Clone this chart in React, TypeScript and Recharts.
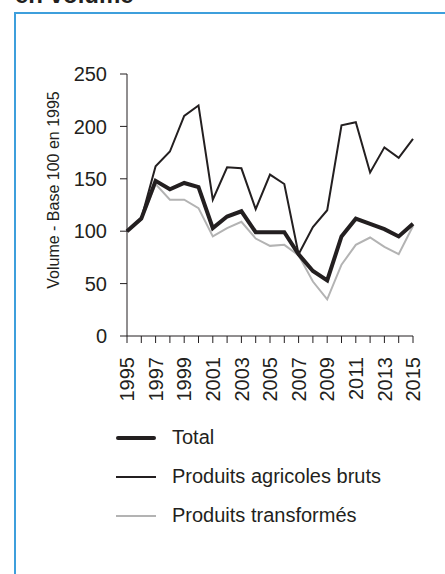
import React from 'react';
import { LineChart, Line, XAxis, YAxis } from 'recharts';

const years = [
  '1995', '1996', '1997', '1998', '1999', '2000', '2001', '2002', '2003', '2004', '2005',
  '2006', '2007', '2008', '2009', '2010', '2011', '2012', '2013', '2014', '2015',
];
const total = [100, 112, 148, 140, 146, 142, 103, 114, 119, 99, 99, 99, 78, 62, 53, 95, 112, 107, 102, 95, 107];
const agricoles = [100, 112, 162, 176, 210, 220, 130, 161, 160, 121, 154, 145, 78, 104, 120, 201, 204, 156, 180, 170, 188];
const transformes = [100, 111, 145, 130, 130, 122, 95, 103, 109, 93, 86, 87, 77, 52, 35, 68, 87, 94, 85, 78, 105];
const yTicks = [0, 50, 100, 150, 200, 250];

const ink = '#231f20';
const grey = '#b3b3b3';
const font = '"Liberation Sans", Arial, sans-serif';

const series = [
  { key: 'total', name: 'Total', color: ink, width: 4 },
  { key: 'agricoles', name: 'Produits agricoles bruts', color: ink, width: 2 },
  { key: 'transformes', name: 'Produits transformés', color: grey, width: 2 },
];

const data = years.map((year, i) => ({
  year,
  total: total[i],
  agricoles: agricoles[i],
  transformes: transformes[i],
}));

// only odd years get a label, every year gets a tick mark
const YearTick = (props: any) => {
  const { x, y, payload } = props;
  if (Number(payload.value) % 2 === 0) return null;
  return (
    <text
      x={x}
      y={y}
      dy="0.36em"
      transform={`rotate(-90, ${x}, ${y})`}
      textAnchor="end"
      fill={ink}
      fontSize={20}
      fontFamily={font}
    >
      {payload.value}
    </text>
  );
};

const App = () => {
  return (
    <div
      style={{
        position: 'absolute',
        left: 0,
        top: 0,
        width: 445,
        height: 574,
        overflow: 'hidden',
        background: '#fff',
        fontFamily: font,
        color: ink,
      }}
    >
      <div
        style={{
          position: 'absolute',
          left: 15,
          top: -17,
          fontSize: 24,
          lineHeight: '24px',
          fontWeight: 'bold',
          whiteSpace: 'nowrap',
        }}
      >
        en volume
      </div>
      <div
        style={{
          position: 'absolute',
          left: 14,
          top: 12,
          width: 500,
          height: 600,
          border: '2px solid #3d9fdc',
        }}
      />

      <div style={{ position: 'absolute', left: 0, top: 0 }}>
        <LineChart
          width={445}
          height={574}
          data={data}
          margin={{ top: 74, right: 32, left: 77, bottom: 178 }}
        >
          <XAxis
            dataKey="year"
            interval={0}
            height={60}
            tick={<YearTick />}
            tickSize={7}
            tickMargin={14}
            axisLine={{ stroke: ink }}
            tickLine={{ stroke: ink }}
          />
          <YAxis
            domain={[0, 250]}
            ticks={yTicks}
            width={50}
            tickSize={7}
            tickMargin={13}
            axisLine={{ stroke: ink }}
            tickLine={{ stroke: ink }}
            tick={{ fill: ink, fontSize: 20, fontFamily: font }}
          />
          <Line
            dataKey="transformes"
            stroke={grey}
            strokeWidth={2}
            dot={false}
            isAnimationActive={false}
          />
          <Line
            dataKey="agricoles"
            stroke={ink}
            strokeWidth={2}
            dot={false}
            isAnimationActive={false}
          />
          <Line
            dataKey="total"
            stroke={ink}
            strokeWidth={4}
            dot={false}
            isAnimationActive={false}
          />
        </LineChart>
      </div>

      <div
        style={{
          position: 'absolute',
          left: 54,
          top: 190,
          transform: 'translate(-50%, -50%) rotate(-90deg)',
          fontSize: 16,
          whiteSpace: 'nowrap',
        }}
      >
        Volume - Base 100 en 1995
      </div>

      <div style={{ position: 'absolute', left: 116, top: 418 }}>
        {series.map((s) => (
          <div key={s.key} style={{ display: 'flex', alignItems: 'center', height: 39 }}>
            <div
              style={{
                width: 40,
                height: s.width,
                background: s.color,
                borderRadius: s.width > 2 ? 2 : 0,
                marginRight: 16,
              }}
            />
            <span style={{ fontSize: 20 }}>{s.name}</span>
          </div>
        ))}
      </div>
    </div>
  );
};

export default App;
